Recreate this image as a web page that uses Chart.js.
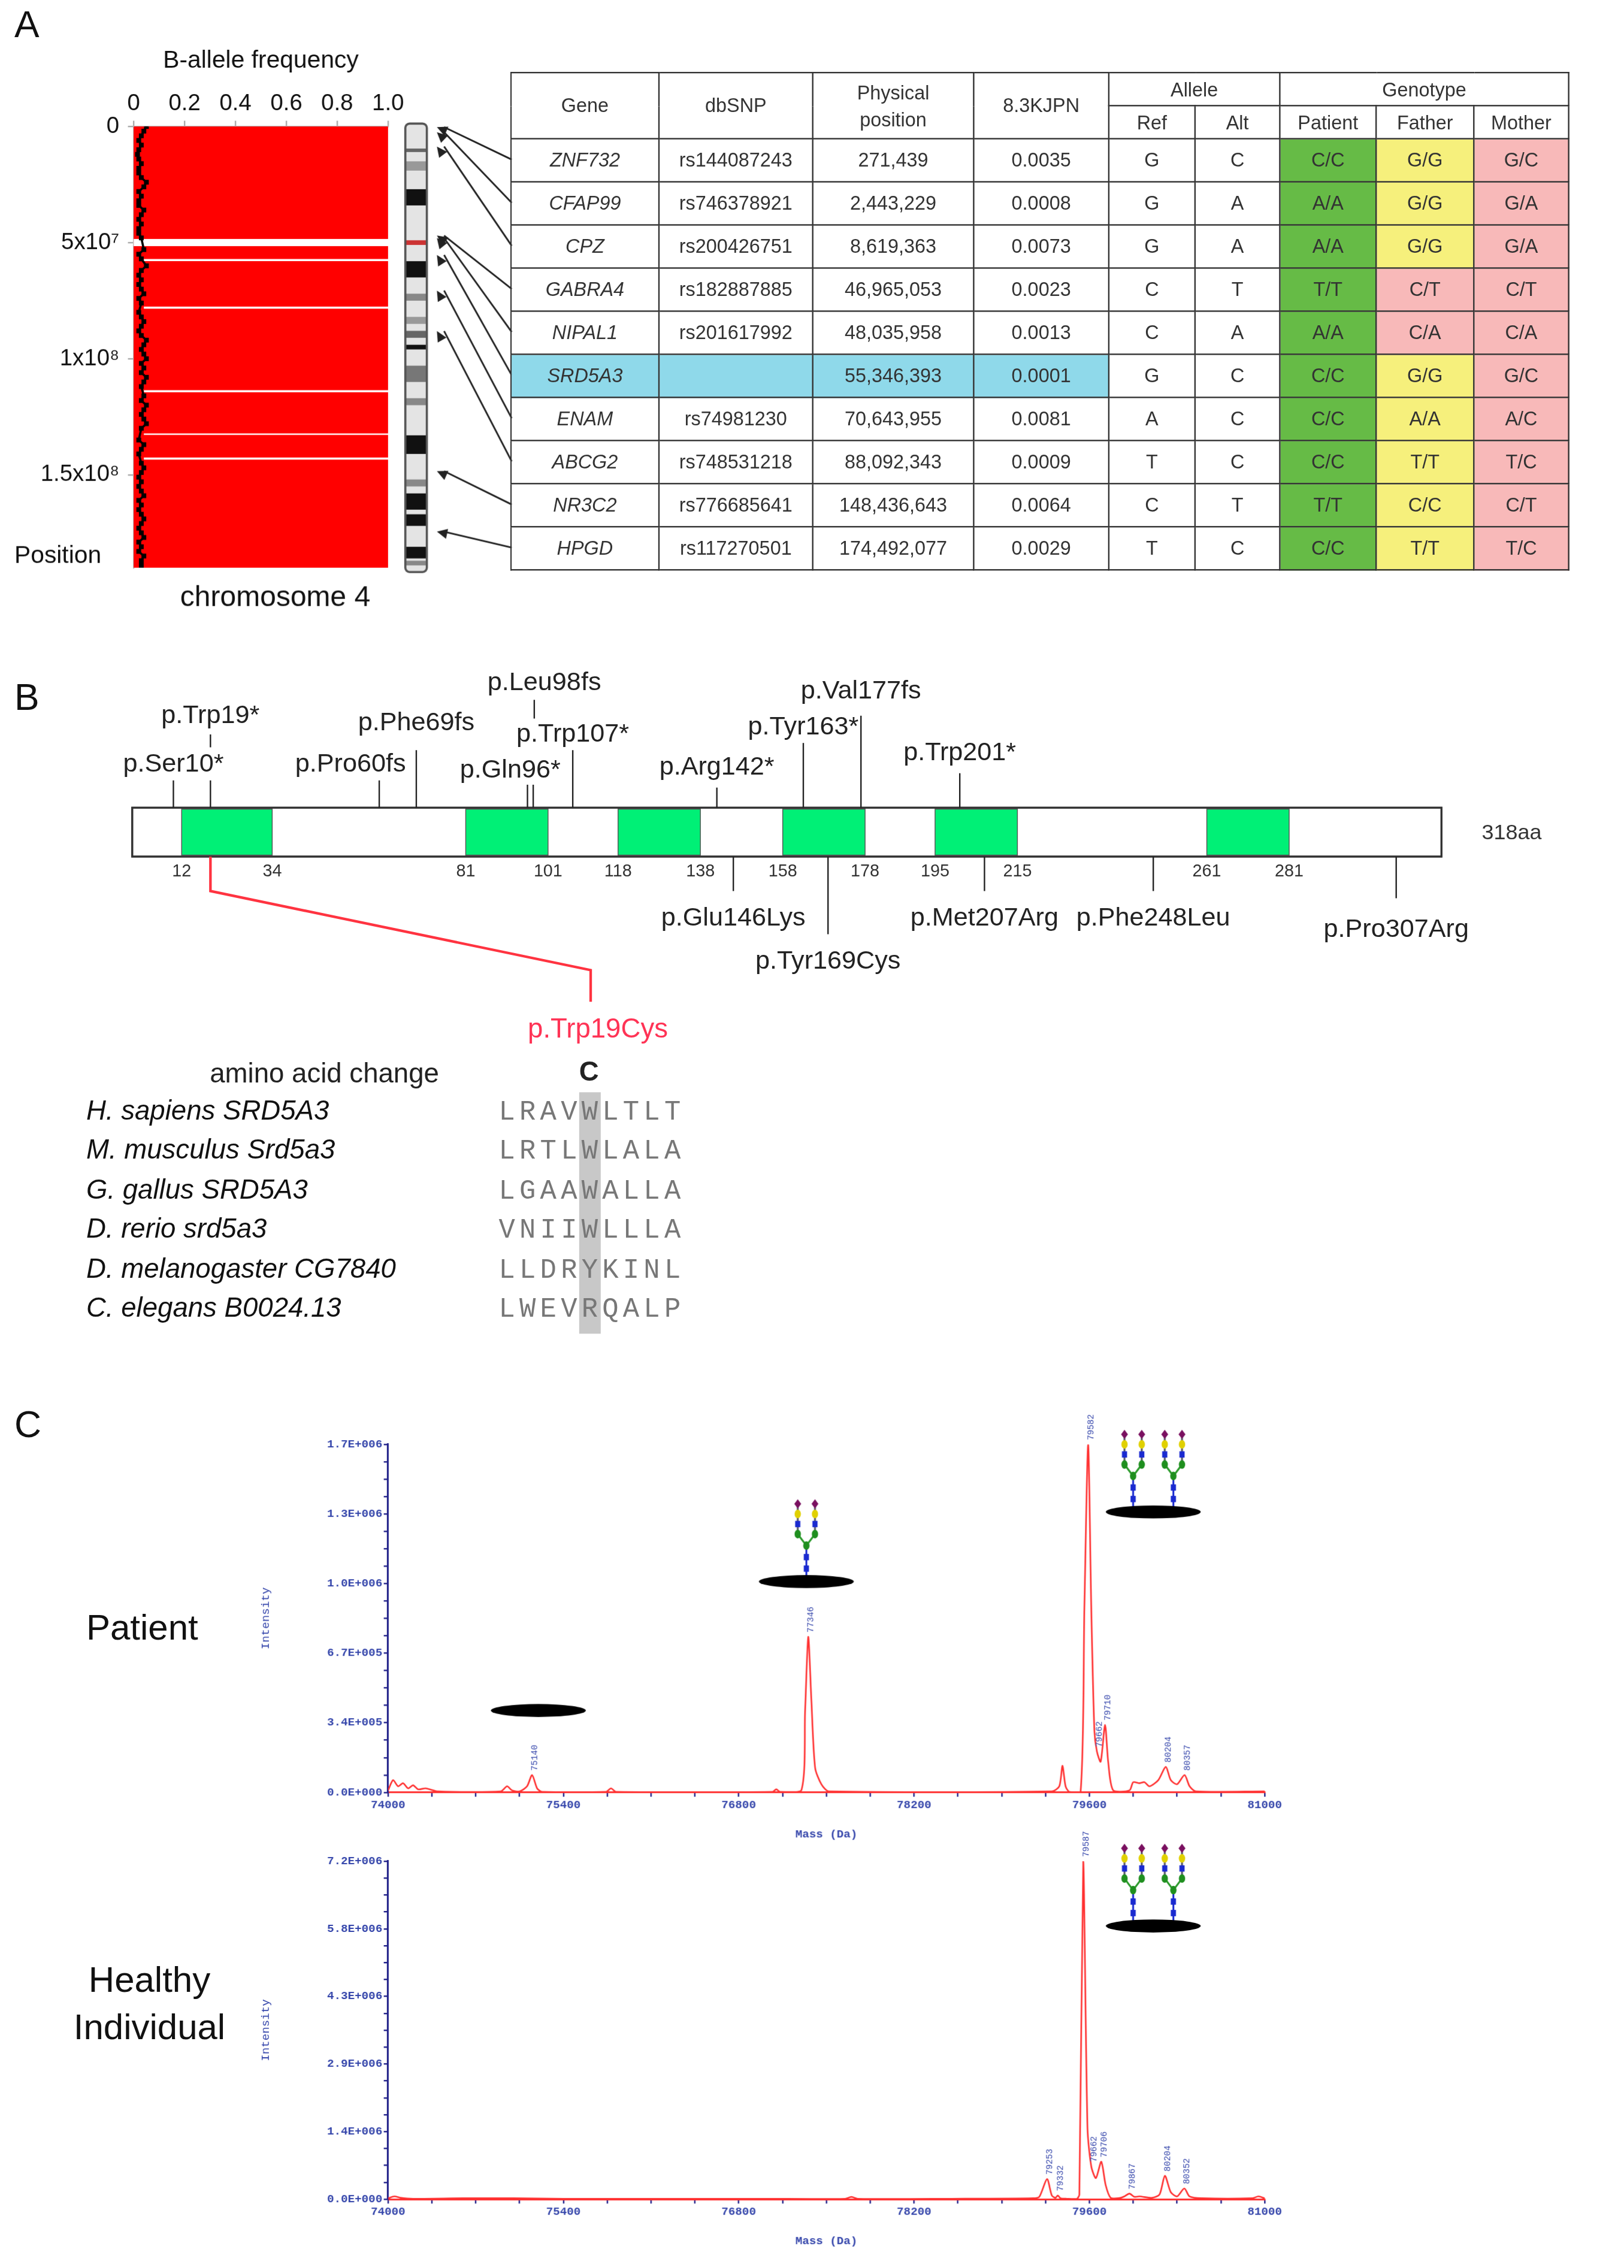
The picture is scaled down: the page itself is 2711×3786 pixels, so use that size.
<!DOCTYPE html>
<html><head><meta charset="utf-8">
<script src="https://cdn.jsdelivr.net/npm/chart.js@4.4.0/dist/chart.umd.min.js"></script>
<style>
html,body{margin:0;padding:0;background:#fff;}
#root{position:absolute;left:0;top:0;width:1130px;height:1578px;transform:scale(2.39912);transform-origin:0 0;font-family:"Liberation Sans",Arial,sans-serif;color:#111;}
.abs{position:absolute;white-space:nowrap;}
table.snp{position:absolute;left:355px;top:50px;border-collapse:collapse;font-size:13.5px;color:#333;table-layout:fixed;}
table.snp td{border:1.2px solid #333;text-align:center;padding:0;}
table.snp tr.h td{height:22px;font-size:13.5px;}
table.snp tr.b td{height:29px;}
.seq{font-family:"Liberation Mono",monospace;color:#777;font-size:19px;letter-spacing:3px;}
.sp{font-style:italic;font-size:19px;}
</style></head><body>
<div id="root">
  <div class="abs" style="left:10px;top:2px;font-size:26px;">A</div>
  <div class="abs" style="left:10px;top:470px;font-size:26px;">B</div>
  <div class="abs" style="left:10px;top:976px;font-size:26px;">C</div>
  <canvas id="baf" class="abs" style="left:0;top:20px;" width="360" height="410"></canvas>
  <div id="tbl"></div>
  <svg id="protein" class="abs" style="left:0;top:440px;" width="1130" height="300"></svg>
  <div id="align"></div>
  <div class="abs" style="left:60px;top:1118px;font-size:25px;">Patient</div>
  <div class="abs" style="left:104px;top:1363px;font-size:25px;transform:translateX(-50%);">Healthy</div>
  <div class="abs" style="left:104px;top:1396px;font-size:25px;transform:translateX(-50%);">Individual</div>
  <canvas id="spec1" class="abs" style="left:180px;top:975px;" width="720" height="306"></canvas>
  <canvas id="spec2" class="abs" style="left:180px;top:1265px;" width="720" height="299"></canvas>
</div>
<script>
// ---------------- DATA ----------------
const bafTickLabels = ["0","0.2","0.4","0.6","0.8","1.0"];
const posTickValues = [0, 5e7, 1e8, 1.5e8];
const posTickLabels = ["0","5x10\u2077","1x10\u2078","1.5x10\u2078"];
const lowBafPosMb = [0,2,4,6,8,10,12,14,16,18,20,22,24,26,28,30,32,34,36,38,40,42,44,46,48,53,55,57,60,62,64,66,68,70,72,74,76,80,82,84,86,88,90,92,94,96,98,100,102,104,106,108,110,112,116,118,120,122,124,126,128,130,135,137,139,141,145,147,149,151,153,155,157,159,161,163,165,167,169,171,173,175,177,179,181,183,185,187,189];
const lowBafVal = [0.05,0.04,0.03,0.02,0.03,0.02,0.015,0.02,0.03,0.02,0.02,0.03,0.05,0.04,0.02,0.03,0.02,0.02,0.04,0.03,0.02,0.03,0.02,0.02,0.03,0.04,0.02,0.03,0.05,0.03,0.02,0.03,0.02,0.03,0.04,0.02,0.03,0.02,0.03,0.04,0.03,0.02,0.03,0.05,0.04,0.03,0.04,0.05,0.03,0.04,0.03,0.05,0.04,0.03,0.04,0.03,0.05,0.04,0.03,0.04,0.05,0.03,0.02,0.04,0.03,0.02,0.03,0.04,0.03,0.02,0.03,0.02,0.03,0.04,0.02,0.03,0.02,0.03,0.04,0.03,0.02,0.03,0.04,0.02,0.03,0.02,0.04,0.03,0.03];
const gapMb = [50, 57.5, 78, 114, 132.5, 143];
const gapWidth = [5, 1.5, 1.5, 1.5, 1, 1.5];
const bandStartMb = [9.5,15,27,49,58,72,82,88,94,103,117,133,152,158,167,181,187];
const bandEndMb   = [11,19,34,51,65,75,85,91,96,110,120,141,155,165,172,186,189];
const bandColor   = ["#666","#999","#111","#c33","#111","#888","#999","#666","#111","#777","#888","#111","#888","#111","#111","#111","#888"];

const genes   = ["ZNF732","CFAP99","CPZ","GABRA4","NIPAL1","SRD5A3","ENAM","ABCG2","NR3C2","HPGD"];
const dbsnp   = ["rs144087243","rs746378921","rs200426751","rs182887885","rs201617992","","rs74981230","rs748531218","rs776685641","rs117270501"];
const physPos = [271439,2443229,8619363,46965053,48035958,55346393,70643955,88092343,148436643,174492077];
const freqJPN = ["0.0035","0.0008","0.0073","0.0023","0.0013","0.0001","0.0081","0.0009","0.0064","0.0029"];
const refAl   = ["G","G","G","C","C","G","A","T","C","T"];
const altAl   = ["C","A","A","T","A","C","C","C","T","C"];
const patientGt = ["C/C","A/A","A/A","T/T","A/A","C/C","C/C","C/C","T/T","C/C"];
const fatherGt  = ["G/G","G/G","G/G","C/T","C/A","G/G","A/A","T/T","C/C","T/T"];
const motherGt  = ["G/C","G/A","G/A","C/T","C/A","G/C","A/C","T/C","C/T","T/C"];

const domainStart = [12,81,118,158,195,261];
const domainEnd   = [34,101,138,178,215,281];
const upMutLabel = ["p.Ser10*","p.Trp19*","p.Pro60fs","p.Phe69fs","p.Gln96*","p.Leu98fs","p.Trp107*","p.Arg142*","p.Tyr163*","p.Val177fs","p.Trp201*"];
const upMutAa    = [10,19,60,69,96,98,107,142,163,177,201];
const downMutLabel = ["p.Glu146Lys","p.Tyr169Cys","p.Met207Arg","p.Phe248Leu","p.Pro307Arg"];
const downMutAa    = [146,169,207,248,307];
const species = ["H. sapiens SRD5A3","M. musculus Srd5a3","G. gallus SRD5A3","D. rerio srd5a3","D. melanogaster CG7840","C. elegans B0024.13"];
const seqs    = ["LRAVWLTLT","LRTLWLALA","LGAAWALLA","VNIIWLLLA","LLDRYKINL","LWEVRQALP"];

const massTicks = ["74000","75400","76800","78200","79600","81000"];
const patientMass = [74000,74040,74080,74120,74160,74200,74240,74300,74400,74900,74950,74990,75050,75110,75150,75190,75230,75740,75780,75820,77070,77100,77130,77300,77330,77355,77380,77410,77460,77520,79300,79360,79385,79410,79440,79530,79560,79590,79615,79640,79660,79690,79725,79750,79790,79920,79950,80000,80040,80080,80150,80210,80250,80300,80360,80400,80450,81000];
const patientInt  = [0.01,0.06,0.03,0.045,0.02,0.035,0.015,0.02,0.005,0.005,0.03,0.01,0.005,0.03,0.085,0.02,0.003,0.003,0.02,0.003,0.003,0.015,0.003,0.01,0.4,0.76,0.45,0.12,0.04,0.005,0.005,0.03,0.13,0.03,0.003,0.005,0.9,1.7,0.9,0.3,0.2,0.15,0.33,0.15,0.01,0.01,0.05,0.045,0.05,0.03,0.06,0.125,0.06,0.04,0.085,0.03,0.005,0.005];
const patientYTicks = ["0.0E+000","3.4E+005","6.7E+005","1.0E+006","1.3E+006","1.7E+006"];
const patientPeakMass = [75150,77355,79590,79660,79725,80210,80360];
const patientPeakInt  = [0.085,0.76,1.7,0.2,0.33,0.125,0.085];
const patientPeakLbl  = ["75140","77346","79582","79662","79710","80204","80357"];

const healthyMass = [74000,74050,74100,74200,74600,75000,75400,76000,77000,77650,77700,77750,78500,79150,79200,79262,79300,79330,79348,79370,79420,79500,79520,79551,79585,79615,79652,79695,79730,79770,79850,79880,79920,79960,80000,80100,80160,80203,80250,80300,80358,80400,80500,80900,80950,81000];
const healthyInt  = [0.02,0.06,0.03,0.01,0.02,0.02,0.01,0.01,0.01,0.01,0.05,0.01,0.01,0.02,0.05,0.43,0.08,0.03,0.08,0.02,0.01,0.01,0.1,7.2,1.5,0.7,0.45,0.8,0.3,0.03,0.03,0.06,0.12,0.05,0.06,0.03,0.1,0.5,0.15,0.06,0.23,0.06,0.02,0.02,0.06,0.02];
const healthyYTicks = ["0.0E+000","1.4E+006","2.9E+006","4.3E+006","5.8E+006","7.2E+006"];
const healthyPeakMass = [79262,79348,79551,79615,79695,79920,80203,80358];
const healthyPeakInt  = [0.43,0.08,7.2,0.7,0.8,0.12,0.5,0.23];
const healthyPeakLbl  = ["79253","79332","79587","79662","79706","79867","80204","80352"];

const patientGlyMass = [75200,77340,80110];
const patientGlyInt  = [0.40,1.03,1.37];
const patientGlyN    = [0,1,2];
const healthyGlyMass = [80110];
const healthyGlyInt  = [5.82];
const healthyGlyN    = [2];

// ---------------- PANEL A: BAF ----------------
const DPR = 2.4*(window.devicePixelRatio||1);
Chart.defaults.font.family = '"Liberation Sans", Arial, sans-serif';
const ROW0 = 111, ROWH = 30;
const bafPlugin = {
  id:'bafdeco',
  beforeDatasetsDraw(c){
    const {ctx, chartArea:a, scales:{x,y}} = c;
    ctx.save();
    ctx.fillStyle = '#ff0000';
    ctx.fillRect(a.left, a.top, a.right-a.left, a.bottom-a.top);
    ctx.strokeStyle = '#fff';
    gapMb.forEach((g,i)=>{ctx.lineWidth=gapWidth[i];const py=y.getPixelForValue(g*1e6);
      ctx.beginPath();ctx.moveTo(x.getPixelForValue(i==0?0:0.04),py);ctx.lineTo(a.right,py);ctx.stroke();});
    ctx.restore();
  },
  afterDraw(c){
    const {ctx, chartArea:a, scales:{y}} = c;
    ctx.save();
    const L=282, W=15, top=y.getPixelForValue(0)-2, bot=y.getPixelForValue(1.9e8)+3;
    ctx.fillStyle='#e4e4e4'; ctx.fillRect(L,top,W,bot-top);
    bandStartMb.forEach((s,i)=>{ctx.fillStyle=bandColor[i];
      const y1=y.getPixelForValue(s*1e6), y2=y.getPixelForValue(bandEndMb[i]*1e6); ctx.fillRect(L,y1,W,y2-y1);});
    ctx.strokeStyle='#555'; ctx.lineWidth=1.5; ctx.beginPath();
    ctx.roundRect(L,top,W,bot-top,3); ctx.stroke();
    ctx.strokeStyle='#222'; ctx.fillStyle='#222'; ctx.lineWidth=1.2;
    physPos.forEach((p,i)=>{
      const ty=y.getPixelForValue(p), sx=356, sy=ROW0+ROWH*i-20, ex=304;
      ctx.beginPath(); ctx.moveTo(sx,sy); ctx.lineTo(ex+5,ty); ctx.stroke();
      const ang=Math.atan2(ty-sy,ex-sx);
      ctx.beginPath(); ctx.moveTo(ex,ty);
      ctx.lineTo(ex-8*Math.cos(ang-0.45),ty-8*Math.sin(ang-0.45));
      ctx.lineTo(ex-8*Math.cos(ang+0.45),ty-8*Math.sin(ang+0.45)); ctx.closePath(); ctx.fill();
    });
    ctx.fillStyle='#111'; ctx.font='17px "Liberation Sans", Arial'; ctx.textAlign='left'; ctx.textBaseline='middle';
    ctx.fillText('Position', 10, 367);
    ctx.font='20px "Liberation Sans", Arial'; ctx.textAlign='center';
    ctx.fillText('chromosome 4', (a.left+a.right)/2+10, 396);
    ctx.restore();
  }
};
new Chart(document.getElementById('baf'),{
  type:'scatter',
  data:{datasets:[{data:lowBafPosMb.map((p,i)=>({x:lowBafVal[i],y:p*1e6})),
    backgroundColor:'#000',borderColor:'#000',pointRadius:1.3,pointStyle:'rect',showLine:true,borderWidth:1.5,tension:0}]},
  options:{responsive:false,devicePixelRatio:DPR,animation:false,
    layout:{padding:{left:0,right:90,top:0,bottom:35}},
    plugins:{legend:{display:false},tooltip:{enabled:false}},
    scales:{
      x:{type:'linear',position:'top',min:0,max:1,
        afterBuildTicks(ax){ax.ticks=[0,0.2,0.4,0.6,0.8,1].map(v=>({value:v}));},
        afterFit(ax){ax.height=68;},
        ticks:{callback:(v,i)=>bafTickLabels[i],color:'#111',font:{size:16},padding:2,maxRotation:0},
        grid:{drawOnChartArea:false,tickLength:4,color:'#aaa'},border:{color:'#bbb'},
        title:{display:true,text:'B-allele frequency',color:'#111',font:{size:17},padding:{top:12,bottom:4}}},
      y:{type:'linear',reverse:true,min:0,max:1.9e8,
        afterBuildTicks(ax){ax.ticks=posTickValues.map(v=>({value:v}));},
        afterFit(ax){ax.width=93;},
        ticks:{callback:(v,i)=>posTickLabels[i],color:'#111',font:{size:16},padding:6},
        grid:{drawOnChartArea:false,tickLength:4,color:'#aaa'},border:{color:'#bbb'}}
    }},
  plugins:[bafPlugin]
});

// ---------------- PANEL A: TABLE ----------------
(function(){
  const colW=[103,107,112,94,60,59,67,68,66];
  let h='<table class="snp"><colgroup>'+colW.map(w=>`<col style="width:${w}px">`).join('')+'</colgroup>';
  h+='<tr class="h"><td rowspan="2">Gene</td><td rowspan="2">dbSNP</td><td rowspan="2" style="line-height:19px">Physical<br>position</td><td rowspan="2">8.3KJPN</td><td colspan="2">Allele</td><td colspan="3">Genotype</td></tr>';
  h+='<tr class="h"><td>Ref</td><td>Alt</td><td>Patient</td><td>Father</td><td>Mother</td></tr>';
  genes.forEach((g,i)=>{
    const hl = g==='SRD5A3' ? 'background:#8fd9ea;' : '';
    const fHet = fatherGt[i][0]!==fatherGt[i][2];
    h+=`<tr class="b"><td style="${hl}font-style:italic">${g}</td><td style="${hl}">${dbsnp[i]}</td><td style="${hl}">${physPos[i].toLocaleString('en-US')}</td><td style="${hl}">${freqJPN[i]}</td>`+
       `<td>${refAl[i]}</td><td>${altAl[i]}</td><td style="background:#66bb46">${patientGt[i]}</td>`+
       `<td style="background:${fHet?'#f8b9b9':'#f6f07c'}">${fatherGt[i]}</td><td style="background:#f8b9b9">${motherGt[i]}</td></tr>`;
  });
  document.getElementById('tbl').innerHTML=h+'</table>';
})();

// ---------------- PANEL B: PROTEIN ----------------
(function(){
  const OY=440, X=aa=>92+aa*911/318, y0=562-OY, y1=596-OY;
  const upLabelY=[531,497,531,502,535,474,510,533,505,480,523];
  const upTickTop=[543,543,543,522,546,487,522,548,517,498,538];
  const downLabelY=[638,668,638,638,646];
  const downTickBot=[620,650,620,620,625];
  const labelDx=[0,0,-20,0,-12,6,0,0,0,0,0];
  let s=`<rect x="${X(0)}" y="${y0}" width="${X(318)-X(0)}" height="${y1-y0}" fill="#fff" stroke="#333" stroke-width="1.3"/>`;
  domainStart.forEach((d,i)=>{s+=`<rect x="${X(d)}" y="${y0+1}" width="${X(domainEnd[i])-X(d)}" height="${y1-y0-2}" fill="#00f076" stroke="#555" stroke-width="0.6"/>`;
    s+=`<text x="${X(d)}" y="${610-OY}" font-size="12" text-anchor="middle" fill="#333">${d}</text><text x="${X(domainEnd[i])}" y="${610-OY}" font-size="12" text-anchor="middle" fill="#333">${domainEnd[i]}</text>`;});
  s+=`<rect x="${X(0)}" y="${y0}" width="${X(318)-X(0)}" height="${y1-y0}" fill="none" stroke="#333" stroke-width="1.3"/>`;
  s+=`<text x="${X(318)+28}" y="${584-OY}" font-size="15" fill="#333">318aa</text>`;
  upMutAa.forEach((aa,i)=>{
    let x=X(aa);
    if(upMutLabel[i]==='p.Leu98fs'){ x=X(98)-1; s+=`<line x1="${x}" y1="${487-OY}" x2="${x}" y2="${500-OY}" stroke="#222"/>`; }
    else if(upMutLabel[i]==='p.Gln96*'){ s+=`<line x1="${x}" y1="${upTickTop[i]-OY}" x2="${x}" y2="${y0}" stroke="#222"/><line x1="${x+4}" y1="${upTickTop[i]-OY}" x2="${x+4}" y2="${y0}" stroke="#222"/>`; }
    else if(upMutLabel[i]==='p.Trp19*'){ s+=`<line x1="${x}" y1="${511-OY}" x2="${x}" y2="${520-OY}" stroke="#222"/><line x1="${x}" y1="${543-OY}" x2="${x}" y2="${y0}" stroke="#222"/>`; }
    else s+=`<line x1="${x}" y1="${upTickTop[i]-OY}" x2="${x}" y2="${y0}" stroke="#222"/>`;
    s+=`<text x="${X(aa)+labelDx[i]}" y="${upLabelY[i]-OY+6}" font-size="18" text-anchor="middle" fill="#222">${upMutLabel[i]}</text>`;
  });
  downMutAa.forEach((aa,i)=>{const x=X(aa);
    s+=`<line x1="${x}" y1="${y1}" x2="${x}" y2="${downTickBot[i]-OY}" stroke="#222"/>`;
    s+=`<text x="${x}" y="${downLabelY[i]-OY+6}" font-size="18" text-anchor="middle" fill="#222">${downMutLabel[i]}</text>`;});
  const rx=X(19);
  s+=`<polyline points="${rx},${y1} ${rx},${620-OY} ${411},${675-OY} ${411},${697-OY}" fill="none" stroke="#ff3340" stroke-width="1.8"/>`;
  s+=`<text x="416" y="${722-OY}" font-size="19" text-anchor="middle" fill="#ff3355">p.Trp19Cys</text>`;
  document.getElementById('protein').innerHTML=s;
  let a=`<div class="abs" style="left:403px;top:760px;width:15px;height:168px;background:#c8c8c8"></div>`;
  a+=`<div class="abs" style="left:146px;top:736px;font-size:19px;color:#222">amino acid change</div>`;
  a+=`<div class="abs" style="left:403px;top:735px;font-size:19px;font-weight:bold;color:#222">C</div>`;
  species.forEach((sp,i)=>{const t=762+i*27.4;
    a+=`<div class="abs sp" style="left:60px;top:${t}px">${sp}</div><div class="abs seq" style="left:347px;top:${t+1}px">${seqs[i]}</div>`;});
  document.getElementById('align').innerHTML=a;
})();

// ---------------- PANEL C: SPECTRA ----------------
function drawTree(ctx, cx, by){
  const link=(x1,y1,x2,y2,col)=>{ctx.strokeStyle=col;ctx.lineWidth=1.3;ctx.beginPath();ctx.moveTo(x1,y1);ctx.lineTo(x2,y2);ctx.stroke();};
  const sq=(x,y)=>{ctx.fillStyle='#1a2ad0';ctx.fillRect(x-1.8,y-2.2,3.6,4.4);};
  const ci=(x,y,c)=>{ctx.fillStyle=c;ctx.beginPath();ctx.ellipse(x,y,2.2,3,0,0,7);ctx.fill();};
  const di=(x,y)=>{ctx.fillStyle='#7a1060';ctx.beginPath();ctx.moveTo(x,y-3.2);ctx.lineTo(x+2.4,y);ctx.lineTo(x,y+3.2);ctx.lineTo(x-2.4,y);ctx.closePath();ctx.fill();};
  link(cx,by,cx,by-22,'#1a2ad0');
  [-6,6].forEach(d=>{link(cx,by-22,cx+d,by-30,'#2a9a2a');link(cx+d,by-30,cx+d,by-50,'#556');});
  sq(cx,by-6); sq(cx,by-14); ci(cx,by-22,'#1f8f1f');
  [-6,6].forEach(d=>{ci(cx+d,by-30,'#1f8f1f'); sq(cx+d,by-37); ci(cx+d,by-44,'#e0d000'); di(cx+d,by-51);});
}
function makeSpec(id, mass, inten, yLabels, ymax, pkM, pkI, pkL, gM, gI, gN){
  const pl={id:'deco'+id, afterDatasetsDraw(c){
    const {ctx, scales:{x,y}}=c; ctx.save();
    ctx.fillStyle='#3344aa'; ctx.font='6px "Liberation Mono", monospace';
    pkM.forEach((m,i)=>{const px=x.getPixelForValue(m), py=y.getPixelForValue(pkI[i]*1e6)-3;
      ctx.save();ctx.translate(px+2,py);ctx.rotate(-Math.PI/2);ctx.textAlign='left';ctx.textBaseline='middle';ctx.fillText(pkL[i],0,0);ctx.restore();});
    gM.forEach((m,i)=>{const px=x.getPixelForValue(m), py=y.getPixelForValue(gI[i]*1e6);
      if(gN[i]===1) drawTree(ctx,px,py-3);
      if(gN[i]===2){drawTree(ctx,px-14,py-3);drawTree(ctx,px+14,py-3);}
      ctx.fillStyle='#000';ctx.beginPath();ctx.ellipse(px,py,33,4.5,0,0,7);ctx.fill();});
    ctx.restore();}};
  new Chart(document.getElementById(id),{
    type:'scatter',
    data:{datasets:[{data:mass.map((m,i)=>({x:m,y:inten[i]*1e6})),showLine:true,borderColor:'#ff3030',borderWidth:1.1,pointRadius:0,tension:0.25}]},
    options:{responsive:false,devicePixelRatio:DPR,animation:false,
      layout:{padding:{left:0,right:20,top:30,bottom:0}},
      plugins:{legend:{display:false},tooltip:{enabled:false}},
      scales:{
        x:{type:'linear',min:74000,max:81000,
          afterBuildTicks(ax){ax.ticks=Array.from({length:21},(_,k)=>({value:74000+350*k}));},
          afterFit(ax){ax.height=34;},
          ticks:{callback:(v,i)=>i%4===0?massTicks[i/4]:'',autoSkip:false,maxRotation:0,color:'#3344aa',font:{size:8,family:'"Liberation Mono", monospace',weight:'bold'},padding:1},
          grid:{drawOnChartArea:false,tickLength:3,color:'#22228a'},border:{color:'#ff3030',width:1.2},
          title:{display:true,text:'Mass (Da)',color:'#3344aa',font:{size:8,family:'"Liberation Mono", monospace',weight:'bold'},padding:{top:2,bottom:0}}},
        y:{type:'linear',min:0,max:ymax,
          afterBuildTicks(ax){ax.ticks=Array.from({length:21},(_,k)=>({value:ymax*k/20}));},
          afterFit(ax){ax.width=90;},
          ticks:{callback:(v,i)=>i%4===0?yLabels[i/4]:'',autoSkip:false,color:'#3344aa',font:{size:8,family:'"Liberation Mono", monospace',weight:'bold'},padding:1},
          grid:{drawOnChartArea:false,tickLength:3,color:'#22228a'},border:{color:'#22228a',width:1.3},
          title:{display:true,text:'Intensity',color:'#3344aa',font:{size:8,family:'"Liberation Mono", monospace'},padding:{top:0,bottom:6}}}
      }},
    plugins:[pl]
  });
}
makeSpec('spec1',patientMass,patientInt,patientYTicks,1.7e6,patientPeakMass,patientPeakInt,patientPeakLbl,patientGlyMass,patientGlyInt,patientGlyN);
makeSpec('spec2',healthyMass,healthyInt,healthyYTicks,7.2e6,healthyPeakMass,healthyPeakInt,healthyPeakLbl,healthyGlyMass,healthyGlyInt,healthyGlyN);
</script>
</body></html>
